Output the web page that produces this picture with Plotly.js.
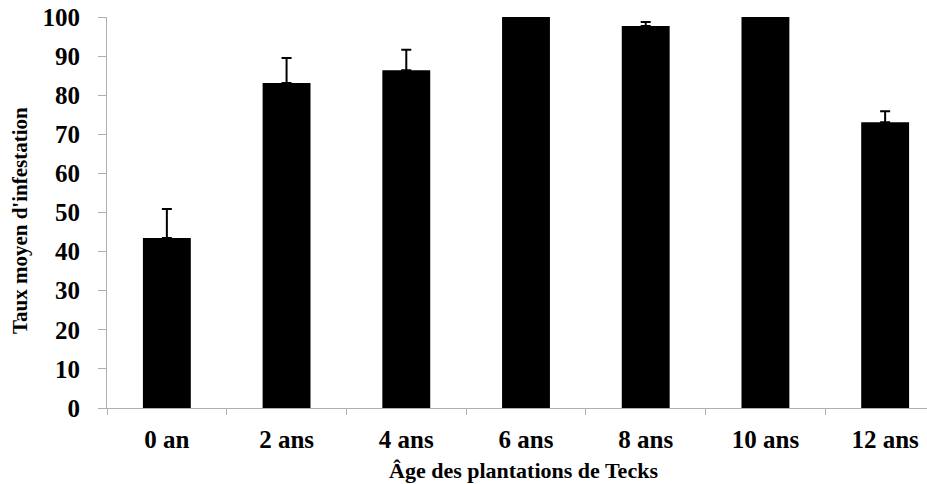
<!DOCTYPE html>
<html>
<head>
<meta charset="utf-8">
<script src="https://cdn.plot.ly/plotly-3.0.1.min.js"></script>
<style>
html, body { margin:0; padding:0; overflow:hidden; background:#fff; width:927px; height:484px; }
#chart { width:945px; height:484px; }
</style>
</head>
<body>
<div id="chart"></div>
<script>
const categories = ["0 an", "2 ans", "4 ans", "6 ans", "8 ans", "10 ans", "12 ans"];
const meanInfestation = [43.5, 83.1, 86.4, 100, 97.7, 100, 73.1];
const errorPlus = [7.4, 6.4, 5.2, 0, 1.0, 0, 2.8];
const xTitle = "Âge des plantations de Tecks";
const yTitle = "Taux moyen d'infestation";

const serif = "'Liberation Serif', 'Times New Roman', serif";

const trace = {
  type: "bar",
  x: categories,
  y: meanInfestation,
  marker: { color: "#000000", line: { width: 0 } },
  error_y: {
    type: "data",
    symmetric: false,
    array: errorPlus,
    arrayminus: categories.map(() => 0),
    color: "#000000",
    thickness: 2,
    width: 5,
    visible: true
  },
  hoverinfo: "none"
};

const layout = {
  width: 945,
  height: 484,
  margin: { l: 107, r: 0, t: 17, b: 76 },
  paper_bgcolor: "#ffffff",
  plot_bgcolor: "#ffffff",
  showlegend: false,
  bargap: 0.6,
  font: { family: serif, color: "#000" },
  xaxis: {
    type: "category",
    range: [-0.5, 6.5],
    showgrid: false,
    zeroline: false,
    showline: true,
    linecolor: "#b0b0b0",
    linewidth: 1,
    ticks: "outside",
    tickson: "boundaries",
    ticklen: 6,
    tickcolor: "#b0b0b0",
    ticklabelstandoff: 9,
    tickfont: { family: serif, size: 25, color: "#000", weight: "bold" }
  },
  yaxis: {
    range: [0, 100],
    dtick: 10,
    tick0: 0,
    showgrid: false,
    zeroline: false,
    showline: true,
    linecolor: "#b0b0b0",
    linewidth: 1,
    ticks: "outside",
    ticklen: 8,
    tickcolor: "#b0b0b0",
    ticklabelstandoff: 13,
    tickfont: { family: serif, size: 25, color: "#000", weight: "bold" }
  },
  annotations: [
    {
      text: xTitle, xref: "paper", yref: "paper", x: 0.4976, y: -0.1586,
      xanchor: "center", yanchor: "middle", showarrow: false,
      font: { family: serif, size: 22, color: "#000", weight: "bold" }
    },
    {
      text: yTitle, xref: "paper", yref: "paper", x: -0.1038, y: 0.478,
      xanchor: "center", yanchor: "middle", showarrow: false, textangle: -90,
      font: { family: serif, size: 21, color: "#000", weight: "bold" }
    }
  ]
};

Plotly.newPlot("chart", [trace], layout, { displayModeBar: false, staticPlot: true });
</script>
</body>
</html>
